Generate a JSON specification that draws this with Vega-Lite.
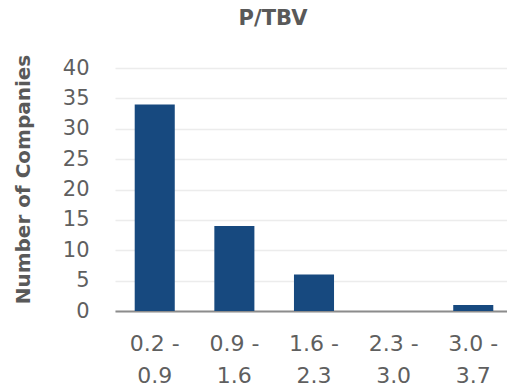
{
  "$schema": "https://vega.github.io/schema/vega-lite/v6.json",
  "autosize": "none",
  "width": 392,
  "height": 243,
  "padding": {"left": 115, "top": 68, "right": 0, "bottom": 76},
  "background": "white",
  "title": {
    "text": "P/TBV",
    "font": "DejaVu Sans",
    "fontSize": 21,
    "fontWeight": "bold",
    "color": "#595959",
    "anchor": "middle",
    "dx": -38,
    "offset": 25
  },
  "data": {
    "values": [
      {"range": "0.2 - 0.9", "count": 34},
      {"range": "0.9 - 1.6", "count": 14},
      {"range": "1.6 - 2.3", "count": 6},
      {"range": "2.3 - 3.0", "count": 0},
      {"range": "3.0 - 3.7", "count": 1}
    ]
  },
  "mark": {"type": "bar", "color": "#17497f"},
  "encoding": {
    "x": {
      "field": "range",
      "type": "nominal",
      "sort": null,
      "scale": {"range": [0, 398], "paddingInner": 0.497, "paddingOuter": 0.2475},
      "axis": {
        "title": null,
        "labelAngle": 0,
        "labelExpr": "[split(datum.label, ' - ')[0] + ' -', split(datum.label, ' - ')[1]]",
        "labelFont": "DejaVu Sans",
        "labelFontSize": 22,
        "labelColor": "#5f5f5f",
        "labelLineHeight": 32,
        "labelPadding": 22,
        "ticks": false,
        "domainColor": "#8c8c8c",
        "domainWidth": 2
      }
    },
    "y": {
      "field": "count",
      "type": "quantitative",
      "scale": {"domain": [0, 40]},
      "axis": {
        "title": "Number of Companies",
        "titleFont": "DejaVu Sans",
        "titleFontSize": 20,
        "titleFontWeight": "bold",
        "titleColor": "#595959",
        "titlePadding": 29,
        "titleY": 111,
        "values": [0, 5, 10, 15, 20, 25, 30, 35, 40],
        "labelFont": "DejaVu Sans",
        "labelFontSize": 21,
        "labelColor": "#5f5f5f",
        "labelPadding": 26,
        "ticks": false,
        "domain": false,
        "gridColor": "#ececec",
        "gridWidth": 1.5
      }
    }
  },
  "config": {"view": {"stroke": null}}
}
